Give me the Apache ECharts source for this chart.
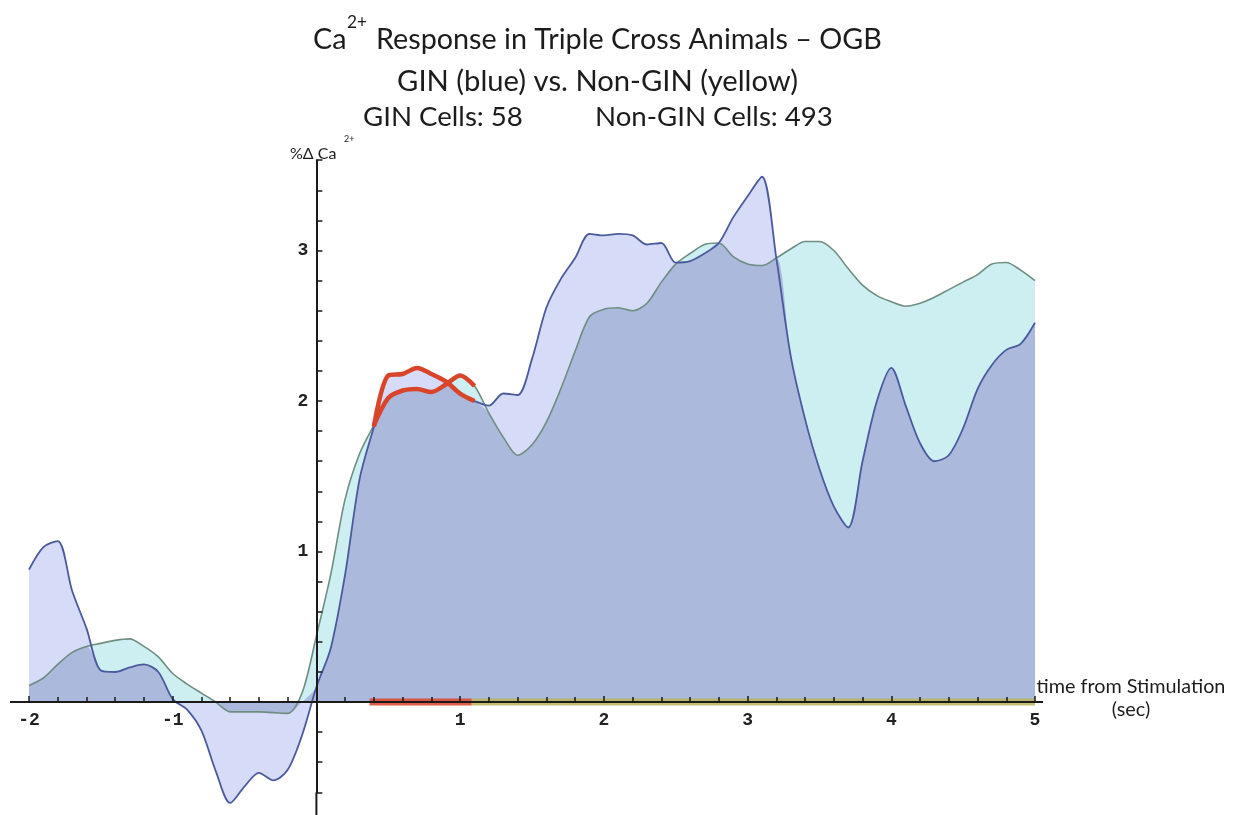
<!DOCTYPE html>
<html>
<head>
<meta charset="utf-8">
<script src="https://cdn.jsdelivr.net/npm/echarts@6/dist/echarts.min.js"></script>
<style>
  html, body { margin: 0; padding: 0; background: #ffffff; }
  #chart { width: 1234px; height: 815px; }
</style>
</head>
<body>
<div id="chart"></div>
<script>
// Time from stimulation (s), sampled every 0.1 s
const timeSec = [
  -2.0, -1.9, -1.8, -1.7, -1.6, -1.5, -1.4, -1.3, -1.2, -1.1,
  -1.0, -0.9, -0.8, -0.7, -0.6, -0.5, -0.4, -0.3, -0.2, -0.1,
   0.0,  0.1,  0.2,  0.3,  0.4,  0.5,  0.6,  0.7,  0.8,  0.9,
   1.0,  1.1,  1.2,  1.3,  1.4,  1.5,  1.6,  1.7,  1.8,  1.9,
   2.0,  2.1,  2.2,  2.3,  2.4,  2.5,  2.6,  2.7,  2.8,  2.9,
   3.0,  3.1,  3.2,  3.3,  3.4,  3.5,  3.6,  3.7,  3.8,  3.9,
   4.0,  4.1,  4.2,  4.3,  4.4,  4.5,  4.6,  4.7,  4.8,  4.9,
   5.0
];

// GIN cells (blue trace), mean %ΔCa2+
const ginResponse = [
   0.88,  1.03,  1.07,  0.74,  0.49,  0.21,  0.20,  0.23,  0.25,  0.20,
   0.02, -0.05, -0.19, -0.46, -0.67, -0.56, -0.47, -0.52, -0.45, -0.22,
   0.10,  0.36,  0.85,  1.48,  1.83,  2.17,  2.18,  2.22,  2.18,  2.13,
   2.05,  2.00,  1.97,  2.05,  2.04,  2.28,  2.62,  2.81,  2.95,  3.11,
   3.10,  3.11,  3.10,  3.04,  3.05,  2.92,  2.93,  2.98,  3.05,  3.22,
   3.36,  3.49,  2.95,  2.30,  1.88,  1.55,  1.30,  1.16,  1.60,  2.00,
   2.22,  1.97,  1.72,  1.60,  1.64,  1.82,  2.08,  2.24,  2.34,  2.38,
   2.52
];

// Non-GIN cells (yellow/cyan trace), mean %ΔCa2+
const nonGinResponse = [
   0.11,  0.16,  0.25,  0.33,  0.37,  0.39,  0.41,  0.42,  0.37,  0.30,
   0.19,  0.12,  0.06,  0.00, -0.065, -0.065, -0.065, -0.07, -0.075, 0.06,
   0.44,  0.85,  1.35,  1.65,  1.84,  2.02,  2.07,  2.08,  2.06,  2.11,
   2.17,  2.10,  1.92,  1.76,  1.64,  1.71,  1.86,  2.08,  2.33,  2.56,
   2.61,  2.62,  2.60,  2.65,  2.79,  2.91,  2.98,  3.04,  3.05,  2.96,
   2.91,  2.90,  2.95,  3.01,  3.06,  3.06,  3.00,  2.88,  2.77,  2.70,
   2.66,  2.63,  2.65,  2.69,  2.74,  2.79,  2.84,  2.91,  2.92,  2.87,
   2.80
];

// Window where both traces are highlighted (s)
const highlightWindow = [0.4, 1.1];
// Bars drawn along the time axis (s)
const stimulusBar = [0.37, 1.08];
const afterBar = [1.08, 5.0];
// Tick labels shown on the axes
const xTickLabels = [-2, -1, 1, 2, 3, 4, 5];
const yTickLabels = [1, 2, 3];

const pairs = (ys) => timeSec.map((t, i) => [t, ys[i]]);
const ginPts = pairs(ginResponse);
const nonGinPts = pairs(nonGinResponse);
// Region covered by both filled areas
const sharedPts = timeSec.map((t, i) => {
  const a = ginResponse[i], b = nonGinResponse[i];
  let v = 0;
  if (a > 0 && b > 0) v = Math.min(a, b);
  else if (a < 0 && b < 0) v = Math.max(a, b);
  return [t, v];
});
const inWindow = (p) => p[0] >= highlightWindow[0] - 1e-9 && p[0] <= highlightWindow[1] + 1e-9;
const isWhole = (v) => Math.abs(v - Math.round(v)) < 1e-6;

// Font size that makes a string span a given width
const measure = document.createElement('canvas').getContext('2d');
function fitSize(text, width, family) {
  measure.font = '100px ' + family;
  return 100 * width / measure.measureText(text).width;
}

const TITLE_FONT = 'Lato';
const INK = '#1c1c1c';
const AXIS_INK = '#1a1a1a';
const tickFont = { fontFamily: '"Liberation Mono", "DejaVu Sans Mono", monospace', fontWeight: 'bold', fontSize: 18, color: '#222' };

const titleLine1 = 'Response in Triple Cross Animals \u2013 OGB';
const titleLine2 = 'GIN (blue) vs. Non-GIN (yellow)';
const ginCount = 'GIN Cells: 58';
const nonGinCount = 'Non-GIN Cells: 493';
const xName = 'time from Stimulation';

const size1 = fitSize(titleLine1, 506, TITLE_FONT);
const size2 = fitSize(titleLine2, 401, TITLE_FONT);
const size3 = fitSize(nonGinCount, 238, TITLE_FONT);
const sizeX = fitSize(xName, 189, TITLE_FONT);

function txt(x, y, text, size, align) {
  return {
    type: 'text', x: x, y: y, silent: true, z: 30,
    style: { text: text, fontSize: size, fontFamily: TITLE_FONT, fill: INK, align: align || 'left', verticalAlign: 'middle' }
  };
}

// Plot area geometry: 1 s = 143.7 px, 1 unit = 150.5 px
const PLOT_LEFT = 29, PLOT_RIGHT = 199, PLOT_TOP = 160.2;
const ZERO_Y = 702, ZERO_X = 316.4;

const chart = echarts.init(document.getElementById('chart'), null, { renderer: 'canvas' });

const area = (name, data, color) => ({
  name: name, type: 'line', data: data, smooth: 0.3, symbol: 'none', z: 1,
  xAxisIndex: 0, yAxisIndex: 0,
  lineStyle: { width: 0, opacity: 0 },
  areaStyle: { color: color, opacity: 1, origin: 0 },
  silent: true
});
const trace = (name, data, color, width, z) => ({
  name: name, type: 'line', data: data, smooth: 0.3, symbol: 'none', z: z,
  xAxisIndex: 0, yAxisIndex: 0,
  lineStyle: { color: color, width: width },
  silent: true
});
const bar = (name, span, color, opacity) => ({
  name: name, type: 'line', symbol: 'none', z: 5, silent: true,
  xAxisIndex: 0, yAxisIndex: 0,
  data: [[span[0], 0], [span[1], 0]],
  lineStyle: { color: color, width: 7, opacity: opacity, cap: 'butt' }
});

const hiddenAxis = (extra) => Object.assign({
  type: 'value', show: false, axisLine: { show: false }, axisTick: { show: false },
  axisLabel: { show: false }, splitLine: { show: false }
}, extra);

chart.setOption({
  animation: false,
  backgroundColor: '#ffffff',
  grid: [
    // plot area, reaching the bottom edge
    { left: PLOT_LEFT, right: PLOT_RIGHT, top: PLOT_TOP, bottom: 0, outerBoundsMode: 'none' },
    // time axis, its lower edge on the zero line
    { left: PLOT_LEFT, right: PLOT_RIGHT, top: PLOT_TOP, bottom: 815 - ZERO_Y, outerBoundsMode: 'none' },
    // response axis, its left edge on t = 0
    { left: ZERO_X, width: 1, top: PLOT_TOP, bottom: 815 - (ZERO_Y + 0.6 * 150.5), outerBoundsMode: 'none' }
  ],
  xAxis: [
    hiddenAxis({ gridIndex: 0, min: -2, max: 5 }),
    {
      type: 'value', gridIndex: 1, min: -2, max: 5, interval: 1, z: 10, position: 'bottom',
      axisLine: { onZero: false, lineStyle: { color: AXIS_INK, width: 2 } },
      axisTick: { inside: true, length: 6, lineStyle: { color: AXIS_INK, width: 1.5 } },
      minorTick: { show: true, splitNumber: 5, length: 5, lineStyle: { color: AXIS_INK, width: 1.5 } },
      splitLine: { show: false },
      axisLabel: Object.assign({
        margin: 9,
        formatter: (v) => isWhole(v) && xTickLabels.indexOf(Math.round(v)) >= 0 ? String(Math.round(v)) : ''
      }, tickFont)
    },
    hiddenAxis({ gridIndex: 2, min: 0, max: 1 })
  ],
  yAxis: [
    hiddenAxis({ gridIndex: 0, min: -0.75, max: 3.6 }),
    hiddenAxis({ gridIndex: 1, min: 0, max: 3.6 }),
    {
      type: 'value', gridIndex: 2, min: -0.6, max: 3.6, interval: 0.2, z: 10, position: 'left',
      axisLine: { onZero: false, lineStyle: { color: AXIS_INK, width: 2 } },
      axisTick: { inside: true, length: 6, lineStyle: { color: AXIS_INK, width: 1.5 } },
      splitLine: { show: false },
      axisLabel: Object.assign({
        margin: 8,
        formatter: (v) => isWhole(v) && yTickLabels.indexOf(Math.round(v)) >= 0 ? String(Math.round(v)) : ''
      }, tickFont)
    }
  ],
  series: [
    area('Non-GIN area', nonGinPts, '#cdeff1'),
    area('GIN area', ginPts, '#d6dbf8'),
    area('Shared area', sharedPts, '#aab9dc'),
    trace('Non-GIN', nonGinPts, '#6f8d80', 1.6, 3),
    trace('GIN', ginPts, '#4a5a9c', 1.8, 4),
    trace('Non-GIN window', nonGinPts.filter(inWindow), '#d9452a', 4.5, 6),
    trace('GIN window', ginPts.filter(inWindow), '#d9452a', 4.5, 6),
    bar('After stimulus', afterBar, '#bab35a', 0.85),
    bar('Stimulus', stimulusBar, '#dc4a32', 0.9)
  ],
  graphic: [
    txt(313, 40, 'Ca', size1),
    txt(347, 22, '2+', size1 * 0.6),
    txt(376, 40, titleLine1, size1),
    txt(597.5, 81.5, titleLine2, size2, 'center'),
    txt(363, 117.5, ginCount, size3),
    txt(595, 117.5, nonGinCount, size3),
    txt(290, 154, '%\u0394 Ca', 16),
    txt(344, 139, '2+', 9),
    txt(1131, 687, xName, sizeX, 'center'),
    txt(1131, 710, '(sec)', sizeX, 'center')
  ]
});

// Carry both axis lines a little past their tick ranges
const pL = chart.convertToPixel({ gridIndex: 0 }, [-2, 0]);
const pR = chart.convertToPixel({ gridIndex: 0 }, [5, 0]);
const pB = chart.convertToPixel({ gridIndex: 0 }, [0, -0.6]);
const pE = chart.convertToPixel({ gridIndex: 0 }, [0, -0.75]);
const axisStroke = { stroke: AXIS_INK, lineWidth: 2 };
chart.setOption({
  graphic: [
    { id: 'axisExtL', type: 'line', z: 20, silent: true,
      shape: { x1: pL[0] - 19, y1: ZERO_Y, x2: pL[0], y2: ZERO_Y }, style: axisStroke },
    { id: 'axisExtR', type: 'line', z: 20, silent: true,
      shape: { x1: pR[0], y1: ZERO_Y, x2: pR[0] + 8, y2: ZERO_Y }, style: axisStroke },
    { id: 'axisExtB', type: 'line', z: 20, silent: true,
      shape: { x1: ZERO_X, y1: pB[1], x2: ZERO_X, y2: pE[1] }, style: axisStroke }
  ]
});
</script>
</body>
</html>
